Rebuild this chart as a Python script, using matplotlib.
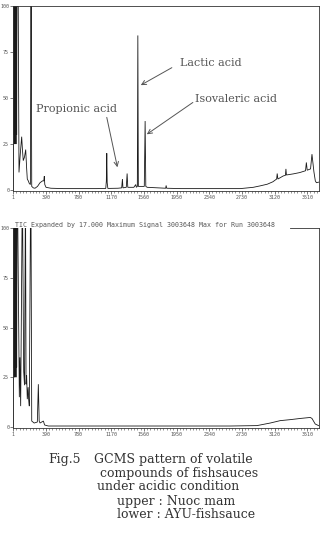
import matplotlib
matplotlib.use("Agg")
import matplotlib.pyplot as plt
from matplotlib.ticker import FixedLocator, MultipleLocator

# ---- data ----
x_ticks = [1, 390, 780, 1170, 1560, 1950, 2340, 2730, 3120, 3510]
y_ticks = [0, 25, 50, 75, 100]

# upper: Nuoc mam
up_x = [1, 5, 9, 13, 17, 21, 25, 29, 33, 37, 41, 45, 52, 60, 69, 85, 101, 110, 120, 135,
        149, 160, 168, 180, 192, 205, 211, 215, 221, 240, 260, 290, 320, 350, 365, 371,
        377, 392, 450, 600, 800, 1000, 1105, 1112, 1117, 1122, 1130, 1250, 1295, 1304,
        1310, 1350, 1360, 1368, 1440, 1463, 1470, 1482, 1488, 1494, 1565, 1575, 1583,
        1600, 1820, 1826, 1832, 2000, 2300, 2600, 2711, 2866, 2950, 3034, 3100, 3145,
        3152, 3160, 3225, 3250, 3256, 3262, 3344, 3420, 3490, 3500, 3510, 3550, 3567,
        3590, 3607, 3620, 3646]
up_y = [0, 100, 30, 100, 25, 100, 30, 100, 25, 100, 30, 100, 100, 100, 9.6, 20, 29, 22, 16, 18,
        22, 12, 6, 5, 3.6, 3, 100, 100, 2, 1.2, 1, 2, 4, 5, 5, 7.5,
        3, 1.5, 1, 0.8, 0.8, 0.8, 0.9, 5, 20, 4, 0.9, 1, 1.2, 6,
        1.2, 1.5, 9, 1.5, 1.5, 3, 1.5, 2, 84, 2, 2, 37.5, 2,
        1.5, 1, 2.5, 1, 0.8, 0.8, 0.8, 0.8, 1.5, 2.3, 3.2, 4.5, 6,
        9, 6, 7.7, 8, 11.5, 8.2, 8.8, 9.5, 10.5, 15, 10.8, 11.5, 19.5,
        10, 5, 4, 4.3]

# lower: AYU-fishsauce
lo_x = [1, 5, 9, 13, 17, 21, 25, 29, 33, 37, 41, 45, 55, 73, 80, 89, 105, 113, 125, 135,
        144, 148, 153, 160, 168, 178, 185, 192, 205, 213, 221, 250, 288, 300, 310, 320,
        340, 360, 375, 420, 800, 1500, 2200, 2590, 2910, 3069, 3188, 3308, 3428, 3547,
        3567, 3606, 3646]
lo_y = [0, 100, 30, 100, 25, 100, 30, 100, 25, 100, 30, 100, 100, 15, 35, 10.5, 100, 100, 28, 21,
        100, 100, 21.5, 26, 14, 20, 14, 10.5, 100, 100, 3, 2, 2.5, 21.5, 3, 2,
        2.5, 3, 1, 0.5, 0.5, 0.5, 0.5, 0.5, 0.7, 2, 3.2, 3.7, 4.3, 4.8,
        4.3, 1.5, 0.7]

# ---- figure ----
W, H = 328, 542
fig = plt.figure(figsize=(W / 100, H / 100), dpi=100)
fig.patch.set_facecolor("white")

def px_axes(left, right, top, bottom):
    return fig.add_axes([left / W, 1 - bottom / H, (right - left) / W, (bottom - top) / H])

ax1 = px_axes(13.3, 318.5, 6, 191)
ax2 = px_axes(13.3, 318.5, 228, 428)

tick_font = dict(family="DejaVu Sans Mono", size=3.6, color="#555555")

for ax, xs, ys in ((ax1, up_x, up_y), (ax2, lo_x, lo_y)):
    ax.plot(xs, ys, color="#1a1a1a", lw=0.6, solid_joinstyle="miter")
    ax.set_xlim(1, 3645)
    ax.set_ylim(-0.5, 100)
    ax.xaxis.set_major_locator(FixedLocator(x_ticks))
    ax.xaxis.set_minor_locator(MultipleLocator(39))
    ax.yaxis.set_major_locator(FixedLocator(y_ticks))
    ax.set_xticklabels([str(v) for v in x_ticks], **tick_font)
    ax.set_yticklabels([str(v) for v in y_ticks], **tick_font)
    ax.tick_params(axis="both", which="major", length=2, width=0.5, color="#444444", pad=1)
    ax.tick_params(axis="x", which="minor", length=1.2, width=0.4, color="#444444")
    for s in ax.spines.values():
        s.set_linewidth(0.6)
        s.set_color("#333333")
    ax.set_facecolor("white")

# lower: header text instead of top frame
ax2.spines["top"].set_visible(False)
ax2.plot([0.905, 1.0], [1.0, 1.0], transform=ax2.transAxes, color="#333333", lw=0.6,
         clip_on=False)
ax2.text(0.005, 1.0, "TIC Expanded by 17.000 Maximum Signal 3003648 Max for Run 3003648",
         transform=ax2.transAxes, ha="left", va="bottom", family="DejaVu Sans Mono",
         size=4.8, color="#555555")

# annotations
ann_font = dict(family="DejaVu Serif", size=8, color="#555555")
arrow = dict(arrowstyle="->", color="#555555", lw=0.7, shrinkA=0, shrinkB=0,
             mutation_scale=8)
ax1.text(1994, 69, "Lactic acid", ha="left", va="center", **ann_font)
ax1.annotate("", xy=(1523, 57), xytext=(1894, 66.5), arrowprops=arrow)
ax1.text(2173, 49.7, "Isovaleric acid", ha="left", va="center", **ann_font)
ax1.annotate("", xy=(1595, 30.3), xytext=(2145, 47.6), arrowprops=arrow)
ax1.text(272, 43.8, "Propionic acid", ha="left", va="center", **ann_font)
ax1.annotate("", xy=(1244, 12.4), xytext=(1117, 39.5), arrowprops=arrow)

# caption
cap = dict(family="DejaVu Serif", size=9, color="#333333", ha="left", va="center")
lines = [
    (48, 459, "Fig.5"),
    (94, 459, "GCMS pattern of volatile"),
    (100, 473, "compounds of fishsauces"),
    (97, 487, "under acidic condition"),
    (117, 501, "upper : Nuoc mam"),
    (117, 515, "lower : AYU-fishsauce"),
]
for x, y, t in lines:
    fig.text(x / W, 1 - y / H, t, **cap)

fig.savefig("out.png", dpi=100, facecolor="white")
